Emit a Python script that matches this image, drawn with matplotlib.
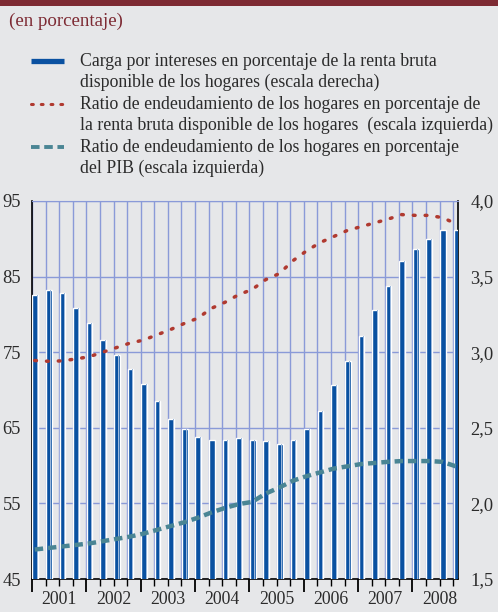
import matplotlib
matplotlib.use("Agg")
import matplotlib.pyplot as plt
import numpy as np
from matplotlib.lines import Line2D
from matplotlib.patches import Rectangle

plt.rcParams["font.family"] = ["Liberation Serif", "DejaVu Serif"]

# quarterly data 2001Q1 .. 2008Q4
years = ["2001", "2002", "2003", "2004", "2005", "2006", "2007", "2008"]
interest_burden = [
    3.38, 3.41, 3.39, 3.29, 3.19, 3.08, 2.98, 2.89,
    2.79, 2.68, 2.56, 2.49, 2.44, 2.42, 2.42, 2.43,
    2.42, 2.41, 2.39, 2.42, 2.49, 2.61, 2.78, 2.94,
    3.11, 3.28, 3.44, 3.60, 3.68, 3.75, 3.81, 3.81,
]
debt_income = [
    73.9, 73.8, 73.85, 74.1, 74.4, 75.0, 75.6, 76.2,
    76.6, 77.3, 78.0, 78.8, 79.5, 80.8, 81.6, 82.6,
    83.3, 84.6, 85.4, 87.1, 88.4, 89.5, 90.3, 91.1,
    91.6, 92.1, 92.6, 93.2, 93.1, 93.1, 92.8, 92.0,
]
debt_gdp = [
    48.9, 49.1, 49.3, 49.5, 49.7, 50.0, 50.3, 50.6,
    51.0, 51.5, 52.0, 52.5, 53.1, 53.8, 54.4, 54.9,
    55.2, 56.3, 57.1, 58.0, 58.6, 59.1, 59.6, 59.9,
    60.2, 60.35, 60.5, 60.6, 60.6, 60.6, 60.5, 59.9,
]
left_ticks = [45, 55, 65, 75, 85, 95]
right_ticks = [1.5, 2.0, 2.5, 3.0, 3.5, 4.0]

BG = "#e6e7e9"
RED_BAND = "#7d2a33"
BLUE = "#0a51a1"
LIGHT_BLUE = "#9bb8dc"
DOTS = "#b03a30"
TEAL = "#4a8594"
GRID = "#8a9ad8"
TEXT = "#2b2b2b"
FS = 12.8

W, H = 498, 612
fig = plt.figure(figsize=(W / 100, H / 100), dpi=100, facecolor=BG)

# header band and subtitle
fig.add_artist(Rectangle((0, 1 - 6 / H), 1, 6 / H, transform=fig.transFigure,
                         color=RED_BAND, lw=0))
fig.text(9 / W, 1 - 21 / H, "(en porcentaje)", color=RED_BAND, fontsize=13.6, va="center")

# legend drawn by hand so the keys sit on the first line of each label
leg_lines = [
    "Carga por intereses en porcentaje de la renta bruta",
    "disponible de los hogares (escala derecha)",
    "Ratio de endeudamiento de los hogares en porcentaje de",
    "la renta bruta disponible de los hogares  (escala izquierda)",
    "Ratio de endeudamiento de los hogares en porcentaje",
    "del PIB (escala izquierda)",
]
for k, s in enumerate(leg_lines):
    fig.text(80 / W, 1 - (61 + 21.5 * k) / H, s, color=TEXT, fontsize=FS, va="center")
kx = [31 / W, 64 / W]
fig.add_artist(Line2D(kx, [1 - 60.5 / H] * 2, color=BLUE, lw=3.8, solid_capstyle="butt"))
fig.add_artist(Line2D(kx, [1 - 103.5 / H] * 2, color=DOTS, lw=2.2, ls=(0, (0.6, 2.6)),
                      dash_capstyle="round"))
fig.add_artist(Line2D(kx, [1 - 147 / H] * 2, color=TEAL, lw=2.8, ls=(0, (2.2, 1.2))))

ax = fig.add_axes([32 / W, 1 - 579 / H, 426 / W, 378 / H])
ax.set_facecolor(BG)
x = np.arange(len(interest_burden))

# bars on the right scale
ax.bar(x + 0.03, interest_burden, width=0.42, align="edge", color=BLUE,
       edgecolor="white", linewidth=1.0, zorder=3)
ax.bar(x + 0.36, interest_burden, width=0.07, align="edge", color=LIGHT_BLUE,
       linewidth=0, zorder=3.1)
ax.set_ylim(1.5, 4.0)
ax.set_xlim(0, 31.35)

ax.set_xticks(np.arange(0, 32, 4))
ax.set_xticks(np.arange(0, 32), minor=True)
ax.set_xticklabels([])
ax.tick_params(axis="x", which="major", length=9, width=1.3, color="black", direction="out")
ax.tick_params(axis="x", which="minor", length=5, width=1.0, color="black", direction="out")
for k, yr in enumerate(years):
    ax.text(4 * k + 2, -0.032, yr, transform=ax.get_xaxis_transform(), ha="center",
            va="top", fontsize=FS, color=TEXT)

ax.set_axisbelow(True)
ax.grid(True, which="both", axis="x", color=GRID, lw=1.0)
ax.grid(True, which="major", axis="y", color=GRID, lw=1.0)
for side in ["left", "right", "bottom"]:
    ax.spines[side].set_color("black")
    ax.spines[side].set_linewidth(1.2)
ax.spines["top"].set_color(GRID)

# lines on the left scale
ax2 = ax.twinx()
ax2.plot(x + 0.2, debt_income, color=DOTS, lw=2.5, ls=(0, (0.5, 2.9)),
         dash_capstyle="round", zorder=4)
ax2.plot(x + 0.2, debt_gdp, color=TEAL, lw=3.2, ls=(0, (1.9, 1.1)), zorder=4)
ax2.set_ylim(45, 95)
for side in ax2.spines:
    ax2.spines[side].set_visible(False)

# twinx moves ticks, so set sides afterwards
ax.yaxis.tick_right()
ax.set_yticks(right_ticks)
ax.set_yticklabels([f"{v:.1f}".replace(".", ",") for v in right_ticks])
ax.tick_params(axis="y", length=0, pad=9, labelsize=13.3, colors=TEXT)
ax2.yaxis.tick_left()
ax2.set_yticks(left_ticks)
ax2.tick_params(axis="y", length=0, pad=8, labelsize=13.3, colors=TEXT)

fig.savefig("out.png", dpi=100, facecolor=BG)
